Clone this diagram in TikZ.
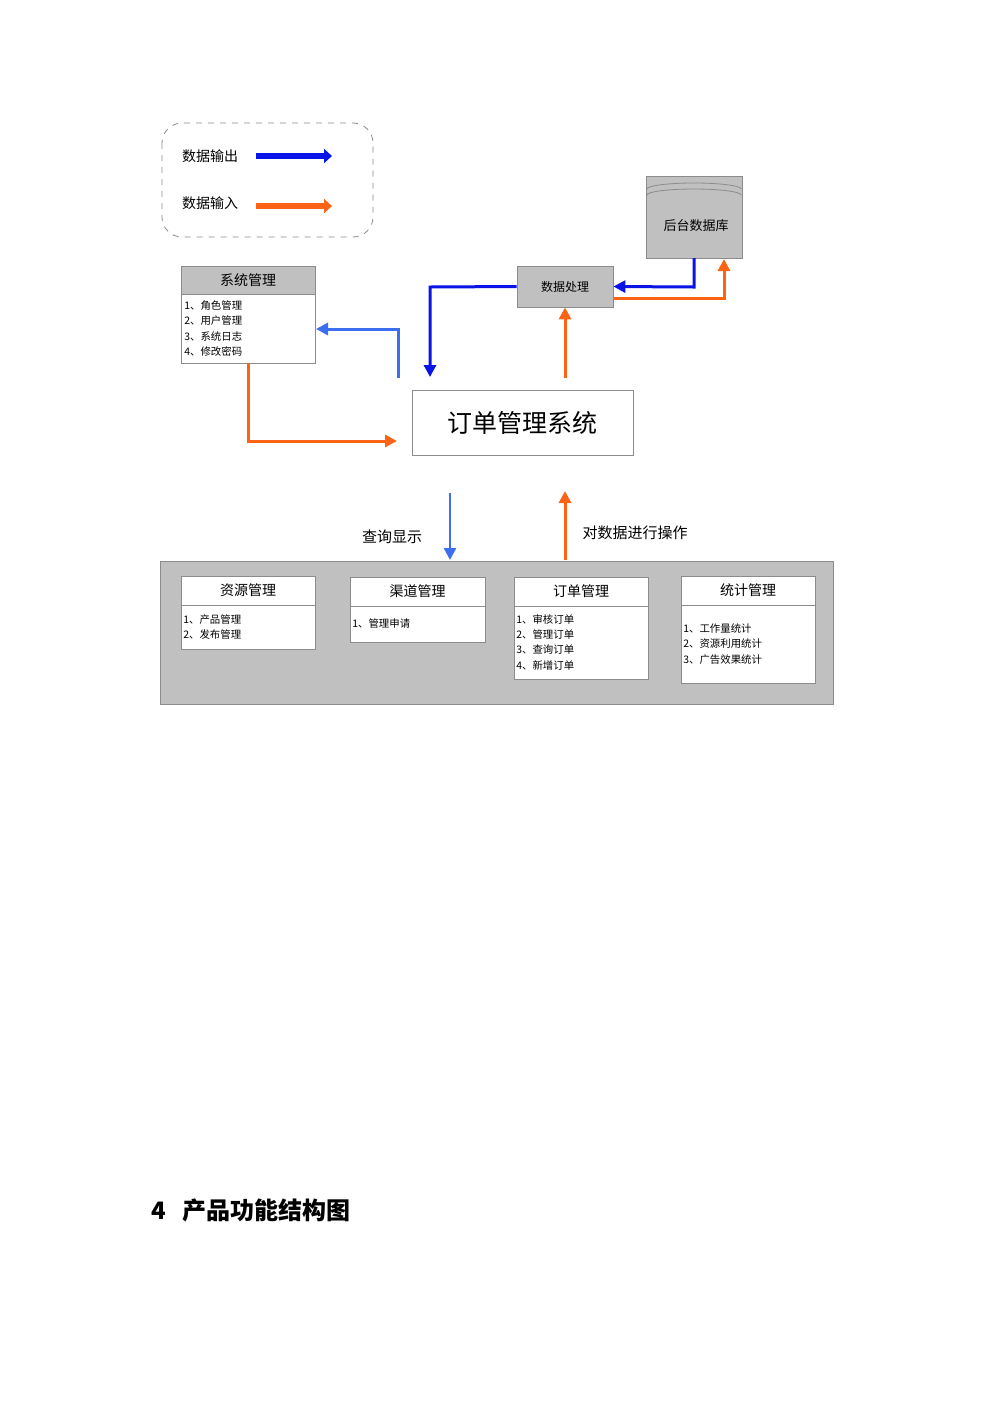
\documentclass[tikz,border=0pt]{standalone}
\usepackage{fontspec}
\setmainfont{Liberation Serif}
\newfontfamily\cjk{Noto Sans CJK SC}
\usetikzlibrary{arrows.meta,shapes.geometric}
\definecolor{dblue}{RGB}{10,20,230}
\definecolor{lblue}{RGB}{60,110,240}
\definecolor{orng}{RGB}{250,100,20}
\definecolor{gbox}{RGB}{192,192,192}
\definecolor{edge}{RGB}{140,140,140}
\tikzset{
 x=0.5pt,y=-0.5pt,
 conn/.style={line width=1.5pt,-{Triangle[length=6pt,width=6pt]}},
 bigarr/.style={line width=2.6pt,-{Triangle[length=4pt,width=7pt]}},
 item/.style={anchor=west,font=\cjk\fontsize{5.2}{6}\selectfont,inner sep=0},
 lbl/.style={font=\cjk\fontsize{7}{8}\selectfont,inner sep=0},
}
\begin{document}
\begin{tikzpicture}
\useasboundingbox (0,0) rectangle (1000,1415);
\fill[white] (0,0) rectangle (1000,1415);
% legend
\draw[edge,dashed,rounded corners=10pt,line width=0.4pt] (162,123) rectangle (373,237);
\node[lbl] (lo) at (210,156) {数据输出};
\node[lbl] (li) at (210,203) {数据输入};
\coordinate (lo1) at (256,156); \coordinate (lo2) at (332,156);
\coordinate (li1) at (256,206); \coordinate (li2) at (332,206);
\draw[bigarr,dblue] (lo1) -- (lo2);
\draw[bigarr,orng] (li1) -- (li2);
% database
\node[cylinder,shape border rotate=90,aspect=0.25,draw=edge,fill=gbox,minimum width=48pt,minimum height=41pt,font=\cjk\fontsize{6.5}{7}\selectfont,inner sep=0] (db) at (694,218) {};
\node[lbl,font=\cjk\fontsize{6.5}{7}\selectfont] at (696,226) {后台数据库};
\draw[edge] (647,189) arc[start angle=180,end angle=360,x radius=47,y radius=6];
\draw[edge] (647,195) arc[start angle=180,end angle=360,x radius=47,y radius=6];
% sys mgmt
\draw[edge,fill=gbox] (181,266) rectangle (315,294);
\draw[edge,fill=white] (181,294) rectangle (315,363);
\node (sys) at (248,314) {};
\node[lbl] at (248,280) {系统管理};
\node[item] at (184,306) {1、角色管理};
\node[item] at (184,321) {2、用户管理};
\node[item] at (184,337) {3、系统日志};
\node[item] at (184,352) {4、修改密码};
% data processing
\node[draw=edge,fill=gbox,minimum width=48pt,minimum height=20.5pt,font=\cjk\fontsize{6}{7}\selectfont] (dp) at (565,286.5) {数据处理};
% main system
\node[draw=edge,fill=white,minimum width=110.5pt,minimum height=32.5pt,font=\cjk\fontsize{12.5}{14}\selectfont,inner sep=0] (main) at (522.5,422.5) {订单管理系统};
% connectors top
\coordinate (a1) at (430,377);
\draw[conn,dblue] (dp.west) -- (430,287) -- (a1);
\coordinate (a2) at (565,378);
\draw[conn,orng] (a2) -- (dp.south);
\draw[conn,dblue] (db.south -| 694,0) ++(0,0) (694,258) -- (694,287) -- (dp.east);
\coordinate (a3) at (613,298);
\draw[conn,orng] (a3) -- (724,298) -- (724,259);
\coordinate (a4) at (398,378); \coordinate (a5) at (316,329);
\draw[conn,lblue] (a4) -- (398,329) -- (a5);
\coordinate (a6) at (248,363); \coordinate (a7) at (397,441);
\draw[conn,orng] (a6) -- (248,441) -- (a7);
% bottom region
\draw[edge,fill=gbox] (160,561) rectangle (833,704);
\coordinate (b1) at (450,493); \coordinate (b2) at (450,560);
\draw[conn,lblue,line width=1.2pt] (b1) -- (b2);
\coordinate (b3) at (565,560); \coordinate (b4) at (565,491);
\draw[conn,orng] (b3) -- (b4);
\node[lbl,font=\cjk\fontsize{7.5}{8}\selectfont] at (392,537) {查询显示};
\node[lbl,font=\cjk\fontsize{7.5}{8}\selectfont] at (635,533) {对数据进行操作};
% module boxes
\newcommand{\modbox}[6]{%
 \draw[edge,fill=white] (#1,#2) rectangle (#3,#4);
 \draw[edge] (#1,#5) -- (#3,#5);
 \node[lbl] at ({(#1+#3)/2},{(#2+#5)/2}) {#6};}
\modbox{181}{576}{315}{649}{605}{资源管理}
\modbox{350}{577}{485}{642}{606}{渠道管理}
\modbox{514}{577}{648}{679}{606}{订单管理}
\modbox{681}{576}{815}{683}{605}{统计管理}
\node[item] at (183,620) {1、产品管理};
\node[item] at (183,635) {2、发布管理};
\node[item] at (352,624) {1、管理申请};
\node[item] at (516,620) {1、审核订单};
\node[item] at (516,635) {2、管理订单};
\node[item] at (516,650) {3、查询订单};
\node[item] at (516,666) {4、新增订单};
\node[item] at (683,629) {1、工作量统计};
\node[item] at (683,644) {2、资源利用统计};
\node[item] at (683,660) {3、广告效果统计};
% heading
\node[anchor=west,inner sep=0,font=\cjk\bfseries\fontsize{12}{14}\selectfont] (h) at (151,1210) {4\hspace{8pt}产品功能结构图};
\end{tikzpicture}
\end{document}
